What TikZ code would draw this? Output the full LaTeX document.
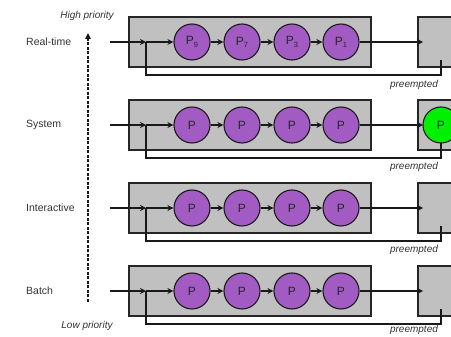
\documentclass[tikz,border=0pt]{standalone}
\usepackage{fontspec}
\setmainfont{Liberation Sans}
\usetikzlibrary{arrows.meta}
\definecolor{boxgray}{HTML}{C0C0C0}
\definecolor{procpurple}{HTML}{A35BC4}
\definecolor{procgreen}{HTML}{00F000}
\definecolor{txt}{HTML}{333333}
\tikzset{
  qbox/.style={draw=black!85, fill=boxgray, line width=1.1pt, minimum width=242pt, minimum height=50pt, inner sep=0pt},
  cpubox/.style={draw=black!85, fill=boxgray, line width=1.1pt, minimum width=60pt, minimum height=50pt, inner sep=0pt},
  proc/.style={circle, draw=black!90, fill=procpurple, line width=1.1pt, minimum size=36pt, inner sep=0pt, font=\fontsize{12}{12}\selectfont, text=black!85},
  procrun/.style={proc, fill=procgreen},
  arr/.style={-{Stealth[length=6pt,width=6pt]}, line width=1.2pt, black!90},
  ln/.style={line width=1.2pt, black!90},
  rowlabel/.style={anchor=west, text=txt, font=\fontsize{10.5}{12}\selectfont, inner sep=0pt},
  note/.style={text=txt, font=\fontsize{10}{12}\selectfont\itshape, inner sep=0pt},
}
\newcommand{\Psub}[1]{P\raisebox{-0.35ex}{\fontsize{7.5}{7.5}\selectfont #1}}
\begin{document}
\begin{tikzpicture}[x=1pt,y=-1pt]
\clip (0,0) rectangle (451,337);
\fill[white] (0,0) rectangle (451,337);

% priority axis
\coordinate (lowend) at (88,302);
\coordinate (highend) at (88,33);
\draw[-{Triangle[length=6pt,width=5.5pt]}, line width=1.3pt, black!90, dash pattern=on 3pt off 1.5pt] (lowend) -- (highend);
\node[note] (high) at (87,16) {High priority};
\node[note] (low) at (87,326) {Low priority};

\foreach \r/\y/\name in {1/42/Real-time, 2/125/System, 3/208/Interactive, 4/291/Batch}{
  \node[rowlabel] (lab\r) at (26,\y) {\name};
  \node[qbox] (q\r) at (250,\y) {};
  \node[cpubox] (cpu\r) at (448,\y) {};
  \coordinate (in\r) at (110,\y);
  \coordinate (j\r) at (146,\y);
  \coordinate (cw\r) at (423,\y);
  \coordinate (cs\r) at (441,\y+18);
}
\node[note] (pre1) at (414,85) {preempted};
\node[note] (pre2) at (414,167) {preempted};
\node[note] (pre3) at (414,250) {preempted};
\node[note] (pre4) at (414,330) {preempted};

% processes
\node[proc] (p11) at (192,42) {\Psub{9}};
\node[proc] (p12) at (242,42) {\Psub{7}};
\node[proc] (p13) at (292,42) {\Psub{3}};
\node[proc] (p14) at (341,42) {\Psub{1}};
\foreach \r/\y in {2/125,3/208,4/291}{
  \node[proc] (p\r1) at (192,\y) {P};
  \node[proc] (p\r2) at (242,\y) {P};
  \node[proc] (p\r3) at (292,\y) {P};
  \node[proc] (p\r4) at (341,\y) {P};
}
\node[procrun] (run) at (441,125) {P};

\foreach \r in {1,2,3,4}{
  \draw[arr] (in\r) -- (j\r);
  \draw[arr] (j\r) -- (p\r1);
  \draw[arr] (p\r1) -- (p\r2);
  \draw[arr] (p\r2) -- (p\r3);
  \draw[arr] (p\r3) -- (p\r4);
  \draw[arr] (p\r4) -- (cw\r);
  \draw[ln] (j\r) -- ++(0,33) -| (cs\r);
}
\end{tikzpicture}
\end{document}
